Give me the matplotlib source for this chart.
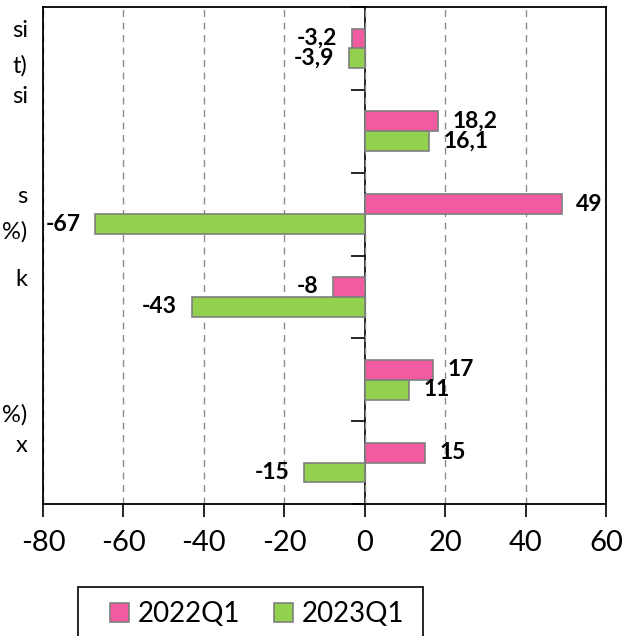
import numpy as np
import matplotlib.pyplot as plt
from matplotlib.patches import Rectangle
from matplotlib.ticker import MultipleLocator

plt.rcParams['font.family'] = ['Lato', 'DejaVu Sans']

# datos por categoría (de arriba hacia abajo)
cat_labels = ["si\nt)", "si\n \n ", "s\n%)", "k\n ", " \n \n%)", "x\n "]
serie_2022 = [-3.2, 18.2, 49, -8, 17, 15]
serie_2023 = [-3.9, 16.1, -67, -43, 11, -15]
series_names = ["2022Q1", "2023Q1"]
x_ticks = [-80, -60, -40, -20, 0, 20, 40, 60]

rosa = "#F35BA0"
verde = "#92D050"
borde = "#7F7F7F"


def fmt(v):
    # coma decimal
    return f"{v:g}".replace(".", ",")


fig = plt.figure(figsize=(6.25, 6.36), dpi=100)
ax = fig.add_axes([43/625, 1 - 504/636, 563/625, 497/636])

y = np.arange(len(cat_labels))
h = 0.24
b1 = ax.barh(y - h/2, serie_2022, height=h, color=rosa, edgecolor=borde, lw=1.2,
             label=series_names[0], zorder=3)
b2 = ax.barh(y + h/2, serie_2023, height=h, color=verde, edgecolor=borde, lw=1.2,
             label=series_names[1], zorder=3)

# etiquetas de valor al final de cada barra
for bars, vals in [(b1, serie_2022), (b2, serie_2023)]:
    for rect, v in zip(bars, vals):
        yc = rect.get_y() + rect.get_height()/2
        off = 10.5 if v >= 0 else -10.5
        ax.annotate(fmt(v), (v, yc), xytext=(off, 0), textcoords="offset points",
                    ha="left" if v >= 0 else "right", va="center",
                    fontsize=16.5, fontweight="bold", zorder=4)

ax.set_xlim(x_ticks[0], x_ticks[-1])
ax.set_ylim(len(cat_labels) - 0.5, -0.5)
ax.set_xticks(x_ticks)
ax.set_xticklabels([str(t) for t in x_ticks])
ax.tick_params(axis="x", length=9, width=1.2, labelsize=21, pad=10)

ax.set_yticks(y)
ax.set_yticklabels(cat_labels, linespacing=1.8, va="center")
ax.tick_params(axis="y", length=0, labelsize=17, pad=11)
for lbl in ax.get_yticklabels():
    lbl.set_multialignment("right")

ax.grid(axis="x", color="#8C8C8C", lw=1, linestyle=(0, (5, 4)), zorder=0)
for s in ax.spines.values():
    s.set_visible(True)
    s.set_color("black")
    s.set_linewidth(1.3)
    s.set_zorder(5)

# eje de categorías en x = 0 con marcas entre categorías
sec = ax.secondary_yaxis((0 - x_ticks[0]) / (x_ticks[-1] - x_ticks[0]))
sec.set_alignment("left")
sec.yaxis.set_major_locator(MultipleLocator(1, offset=0.5))
sec.set_yticklabels([])
sec.tick_params(axis="y", length=10, width=1.2, direction="out")
for s in sec.spines.values():
    s.set_linewidth(1.2)

# leyenda sin marco propio, con recuadro aparte
leg = fig.legend(handles=[b1, b2], labels=series_names, loc="upper left",
                 bbox_to_anchor=(110/625, 1 - 601/636), ncol=2, fontsize=20,
                 frameon=False, borderaxespad=0, borderpad=0,
                 handlelength=0.7, handleheight=0.7,
                 handletextpad=0.3, columnspacing=1.2)
fig.patches.append(Rectangle((78/625, -0.05), 345/625, 0.05 + (636 - 587)/636,
                             transform=fig.transFigure, fill=False,
                             edgecolor="black", lw=1.2))

fig.savefig("out.png", dpi=100)
